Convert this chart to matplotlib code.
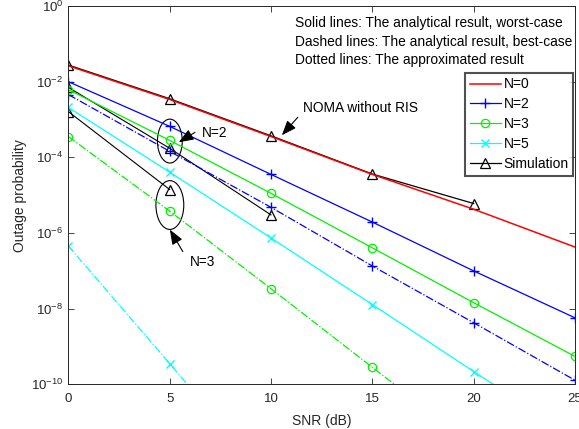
import numpy as np
import matplotlib
matplotlib.use("Agg")
import matplotlib.pyplot as plt
from matplotlib.patches import Ellipse
from matplotlib.ticker import FixedLocator, NullLocator, LogFormatterMathtext

plt.rcParams['font.family'] = ['Liberation Sans', 'DejaVu Sans']
plt.rcParams['mathtext.fontset'] = 'custom'
plt.rcParams['mathtext.rm'] = 'Liberation Sans'

snr = [0, 5, 10, 15, 20, 25]

# log10 of outage probability
n0_worst = [-1.58, -2.47, -3.45, -4.45, -5.37, -6.37]
n2_worst = [-2.00, -3.18, -4.45, -5.71, -7.00, -8.24]
n2_best = [-2.34, -3.84, -5.32, -6.87, -8.37, -9.89]
n3_worst = [-2.21, -3.55, -4.95, -6.39, -7.84, -9.26]
n3_best = [-3.45, -5.42, -7.47, -9.55, -11.6, -13.7]
n5_worst = [-2.68, -4.39, -6.13, -7.89, -9.66, -11.4]
n5_best = [-6.34, -9.45, -12.6, -15.7, -18.8, -21.9]

sim_n0_snr = [0, 5, 10, 15, 20]
sim_n0 = [-1.56, -2.45, -3.43, -4.44, -5.22]
sim_n2_snr = [0, 5, 10]
sim_n2 = [-2.15, -3.76, -5.52]
sim_n3_snr = [0, 5]
sim_n3 = [-2.79, -4.85]

legend_labels = ['N=0', 'N=2', 'N=3', 'N=5', 'Simulation']

def p(v):
    return np.power(10.0, np.array(v))

fig = plt.figure(figsize=(5.79, 4.29), dpi=100)
ax = fig.add_axes([0.118, 0.104, 0.875, 0.882])

lw = 0.9
ms = 6
green = (0.0, 0.95, 0.0)
hs, = ax.semilogy(sim_n0_snr, p(sim_n0), '-', color='black', lw=0.9, marker='^', ms=ms+1, mfc='none', mew=0.9)
ax.semilogy(sim_n2_snr, p(sim_n2), '-', color='black', lw=0.8, marker='^', ms=ms+1, mfc='none', mew=0.9)
ax.semilogy(sim_n3_snr, p(sim_n3), '-', color='black', lw=0.8, marker='^', ms=ms+1, mfc='none', mew=0.9)
h0, = ax.semilogy(snr, p(n0_worst), '-', color='red', lw=1.1)
h2, = ax.semilogy(snr, p(n2_worst), '-', color='blue', lw=lw, marker='+', ms=ms+1, mew=1)
ax.semilogy(snr, p(n2_best), '-.', color='blue', lw=lw, marker='+', ms=ms+1, mew=1)
h3, = ax.semilogy(snr, p(n3_worst), '-', color=green, lw=lw, marker='o', ms=ms, mfc='none', mew=0.9)
ax.semilogy(snr, p(n3_best), '-.', color=green, lw=lw, marker='o', ms=ms, mfc='none', mew=0.9)
h5, = ax.semilogy(snr, p(n5_worst), '-', color='cyan', lw=lw, marker='x', ms=ms, mew=1)
ax.semilogy(snr, p(n5_best), '-.', color='cyan', lw=lw, marker='x', ms=ms, mew=1)

ax.set_xlim(0, 25)
ax.set_ylim(1e-10, 1)
ax.set_xticks([0, 5, 10, 15, 20, 25])
ax.yaxis.set_major_locator(FixedLocator(10.0 ** np.arange(-10, 1, 2)))
ax.yaxis.set_minor_locator(NullLocator())
ax.yaxis.set_major_formatter(LogFormatterMathtext())
ax.tick_params(direction='in', top=True, right=True, labelsize=9.5, length=4, width=0.6, colors='#262626')
ax.tick_params(axis='x', pad=6)
for s in ax.spines.values():
    s.set_linewidth(0.7)
    s.set_color('#262626')
ax.set_xlabel('SNR (dB)', fontsize=10, color='#262626', labelpad=7)
ax.set_ylabel('Outage probability', fontsize=10, color='#262626', labelpad=3)

leg = ax.legend([h0, h2, h3, h5, hs], legend_labels, loc='upper right',
                bbox_to_anchor=(0.997, 0.824), fontsize=10, frameon=True, fancybox=False,
                edgecolor='#262626', borderpad=0.35, labelspacing=0.42, handlelength=2.2,
                handletextpad=0.2, borderaxespad=0)
leg.get_frame().set_linewidth(1.5)

tx = 0.447
fs_t = 9.9
ax.text(tx, 0.956, 'Solid lines: The analytical result, worst-case', transform=ax.transAxes, fontsize=fs_t, va='center')
ax.text(tx, 0.905, 'Dashed lines: The analytical result, best-case', transform=ax.transAxes, fontsize=fs_t, va='center')
ax.text(tx, 0.856, 'Dotted lines: The approximated result', transform=ax.transAxes, fontsize=fs_t, va='center')

ax.add_patch(Ellipse((0.2004, 0.643), 0.049, 0.116, transform=ax.transAxes, fill=False, ec='black', lw=0.8))
ax.add_patch(Ellipse((0.2004, 0.474), 0.055, 0.129, transform=ax.transAxes, fill=False, ec='black', lw=0.8))

aprops = dict(arrowstyle='-|>,head_length=0.9,head_width=0.35', color='black', lw=0.8, shrinkA=0, shrinkB=0)
ax.annotate('', xy=(0.218, 0.640), xytext=(0.250, 0.666), xycoords='axes fraction', arrowprops=aprops)
ax.text(0.263, 0.664, 'N=2', transform=ax.transAxes, fontsize=9.9, va='center', ha='left')
ax.annotate('', xy=(0.2004, 0.409), xytext=(0.226, 0.351), xycoords='axes fraction', arrowprops=aprops)
ax.text(0.240, 0.324, 'N=3', transform=ax.transAxes, fontsize=9.9, va='center', ha='left')
ax.annotate('', xy=(0.4215, 0.6585), xytext=(0.453, 0.706), xycoords='axes fraction', arrowprops=aprops)
ax.text(0.463, 0.730, 'NOMA without RIS', transform=ax.transAxes, fontsize=9.9, va='center', ha='left')

fig.savefig('out.png', dpi=100)
